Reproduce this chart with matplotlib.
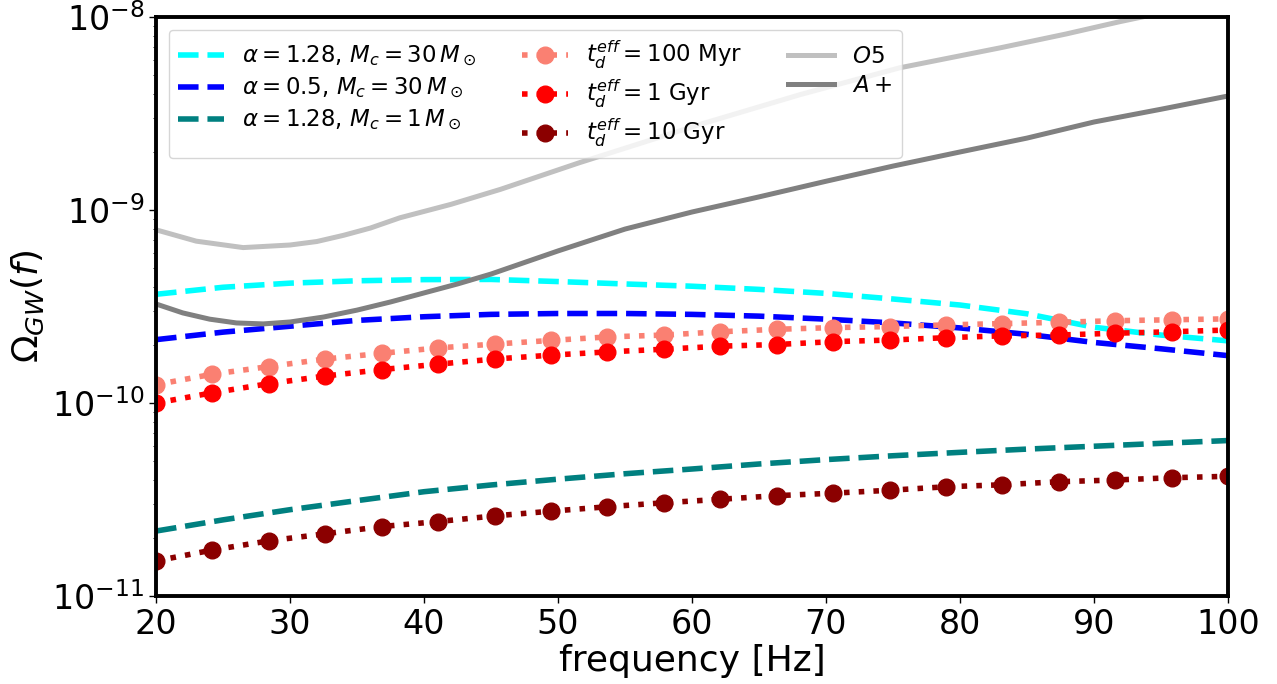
import matplotlib
matplotlib.use("Agg")
import matplotlib.pyplot as plt

# ---- data ----
f_curve = [20, 25, 30, 35, 40, 45, 50, 55, 60, 65, 70, 75, 80, 85, 90, 95, 100]
cyan_vals = [3.66e-10, 3.98e-10, 4.18e-10, 4.30e-10, 4.36e-10, 4.37e-10, 4.26e-10, 4.14e-10,
             4.03e-10, 3.88e-10, 3.70e-10, 3.46e-10, 3.22e-10, 2.90e-10, 2.47e-10, 2.25e-10, 2.10e-10]
blue_vals = [2.13e-10, 2.33e-10, 2.50e-10, 2.68e-10, 2.80e-10, 2.88e-10, 2.91e-10, 2.91e-10,
             2.88e-10, 2.82e-10, 2.72e-10, 2.60e-10, 2.45e-10, 2.27e-10, 2.06e-10, 1.91e-10, 1.76e-10]
teal_vals = [2.17e-11, 2.48e-11, 2.80e-11, 3.12e-11, 3.47e-11, 3.76e-11, 4.03e-11, 4.30e-11,
             4.55e-11, 4.83e-11, 5.09e-11, 5.33e-11, 5.55e-11, 5.77e-11, 5.97e-11, 6.18e-11, 6.39e-11]

f_pts = [20, 24.21, 28.42, 32.63, 36.84, 41.05, 45.26, 49.47, 53.68, 57.89,
         62.11, 66.32, 70.53, 74.74, 78.95, 83.16, 87.37, 91.58, 95.79, 100]
myr100 = [1.245e-10, 1.41e-10, 1.545e-10, 1.69e-10, 1.81e-10, 1.93e-10, 2.02e-10, 2.11e-10, 2.20e-10, 2.25e-10,
          2.34e-10, 2.41e-10, 2.46e-10, 2.49e-10, 2.54e-10, 2.58e-10, 2.62e-10, 2.67e-10, 2.70e-10, 2.73e-10]
gyr1 = [1.00e-10, 1.13e-10, 1.26e-10, 1.38e-10, 1.49e-10, 1.59e-10, 1.69e-10, 1.77e-10, 1.84e-10, 1.90e-10,
        1.97e-10, 2.01e-10, 2.08e-10, 2.12e-10, 2.18e-10, 2.23e-10, 2.25e-10, 2.30e-10, 2.34e-10, 2.39e-10]
gyr10 = [1.52e-11, 1.73e-11, 1.93e-11, 2.10e-11, 2.29e-11, 2.43e-11, 2.60e-11, 2.75e-11, 2.90e-11, 3.04e-11,
         3.17e-11, 3.31e-11, 3.41e-11, 3.53e-11, 3.68e-11, 3.77e-11, 3.91e-11, 3.99e-11, 4.10e-11, 4.17e-11]

f_o5 = [20, 23, 26.5, 30, 32, 34, 36, 38.2, 42, 45.7, 51.6, 60.6, 68.1, 75.5, 83, 87.9, 91.9, 95]
o5_vals = [7.9e-10, 6.9e-10, 6.39e-10, 6.59e-10, 6.87e-10, 7.40e-10, 8.07e-10, 9.12e-10, 1.07e-9, 1.28e-9,
           1.76e-9, 2.78e-9, 3.97e-9, 5.46e-9, 6.93e-9, 8.17e-9, 9.46e-9, 1.05e-8]
f_ap = [20, 22, 24, 26, 28, 30, 32.5, 35, 37.5, 40, 42.5, 45, 47.5, 50, 55, 60, 65, 70, 75, 80, 85, 90, 95, 100]
ap_vals = [3.26e-10, 2.93e-10, 2.72e-10, 2.60e-10, 2.57e-10, 2.63e-10, 2.79e-10, 3.03e-10, 3.34e-10, 3.72e-10,
           4.14e-10, 4.66e-10, 5.35e-10, 6.14e-10, 7.97e-10, 9.77e-10, 1.17e-9, 1.41e-9, 1.69e-9, 2.0e-9,
           2.36e-9, 2.86e-9, 3.33e-9, 3.90e-9]

labels = [r'$\alpha=1.28$, $M_c=30\,M_\odot$', r'$\alpha=0.5$, $M_c=30\,M_\odot$',
          r'$\alpha=1.28$, $M_c=1\,M_\odot$',
          r'$t_d^{eff}=100$ Myr', r'$t_d^{eff}=1$ Gyr', r'$t_d^{eff}=10$ Gyr',
          r'$O5$', r'$A+$']

fig = plt.figure(figsize=(12.77, 6.84), dpi=100)
ax = fig.add_axes([0.1222, 0.1287, 0.8394, 0.8463])

lw = 4
ax.plot(f_curve, cyan_vals, color='cyan', lw=lw, ls='--', label=labels[0])
ax.plot(f_curve, blue_vals, color='blue', lw=lw, ls='--', label=labels[1])
ax.plot(f_curve, teal_vals, color='teal', lw=lw, ls='--', label=labels[2])
ax.plot(f_pts, myr100, color='salmon', lw=lw, ls=':', marker='o', ms=12, label=labels[3])
ax.plot(f_pts, gyr1, color='red', lw=lw, ls=':', marker='o', ms=12, label=labels[4])
ax.plot(f_pts, gyr10, color='darkred', lw=lw, ls=':', marker='o', ms=12, label=labels[5])
ax.plot(f_o5, o5_vals, color='silver', lw=3.6, label=labels[6])
ax.plot(f_ap, ap_vals, color='gray', lw=3.6, label=labels[7])

ax.set_yscale('log')
ax.set_xlim(20, 100)
ax.set_ylim(1e-11, 1e-8)
ax.set_xlabel('frequency [Hz]', fontsize=26, labelpad=2)
ax.set_ylabel(r'$\Omega_{GW}(f)$', fontsize=26)
ax.tick_params(axis='both', which='major', labelsize=24, width=1, length=5)
for s in ax.spines.values():
    s.set_linewidth(2.8)

ax.legend(loc='upper left', ncol=3, fontsize=16.5, labelspacing=0.3, columnspacing=2.0,
          borderaxespad=0.55)

fig.savefig('out.png', dpi=100)
